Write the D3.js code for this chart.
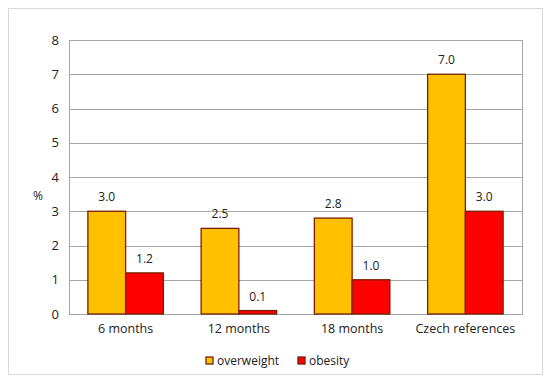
<!DOCTYPE html>
<html>
<head>
<meta charset="utf-8">
<script src="https://cdn.jsdelivr.net/npm/d3@7"></script>
<style>
  body { margin: 0; background: #fff; }
  text { font-family: "Open Sans", "Noto Sans", sans-serif; fill: #222; }
</style>
</head>
<body>
<svg id="chart"></svg>
<script>
const categories = ["6 months", "12 months", "18 months", "Czech references"];
const seriesNames = ["overweight", "obesity"];
const overweight = [3.0, 2.5, 2.8, 7.0];
const obesity = [1.2, 0.1, 1.0, 3.0];
const yTicks = [0, 1, 2, 3, 4, 5, 6, 7, 8];

const colors = { overweight: "#FFC000", obesity: "#FF0000" };
const strokeColor = "#7a1f00";

const width = 550;
const height = 382;
const margin = { top: 40, right: 28, bottom: 68, left: 69 };

const svg = d3.select("#chart").attr("width", width).attr("height", height);

// outer frame
svg.append("rect")
  .attr("x", 8.5).attr("y", 8.5)
  .attr("width", 534).attr("height", 366)
  .attr("fill", "#fff")
  .attr("stroke", "#d9d9d9");

const x0 = d3.scaleBand()
  .domain(categories)
  .range([margin.left, width - margin.right]);

const x1 = d3.scaleBand()
  .domain(seriesNames)
  .range([0, x0.bandwidth()])
  .paddingInner(0)
  .paddingOuter(0.5);

const y = d3.scaleLinear()
  .domain([0, 8])
  .range([height - margin.bottom, margin.top]);

// gridlines
svg.append("g")
  .selectAll("line")
  .data(yTicks)
  .enter()
  .append("line")
  .attr("x1", margin.left)
  .attr("x2", width - margin.right)
  .attr("y1", (d) => Math.round(y(d)) + 0.5)
  .attr("y2", (d) => Math.round(y(d)) + 0.5)
  .attr("stroke", "#a6a6a6")
  .attr("stroke-width", 1);

// plot border
svg.append("rect")
  .attr("x", margin.left + 0.5)
  .attr("y", Math.round(y(8)) + 0.5)
  .attr("width", width - margin.right - margin.left)
  .attr("height", Math.round(y(0)) - Math.round(y(8)))
  .attr("fill", "none")
  .attr("stroke", "#a6a6a6");

// y axis labels
const yAxis = d3.axisLeft(y).tickValues(yTicks).tickSize(0).tickPadding(10).tickFormat(d3.format("d"));
const yg = svg.append("g")
  .attr("transform", `translate(${margin.left},0)`)
  .call(yAxis);
yg.select(".domain").remove();
yg.selectAll("text").style("font-size", "13px").attr("fill", "#222");

svg.append("text")
  .attr("x", 38)
  .attr("y", 200)
  .attr("text-anchor", "middle")
  .style("font-size", "12px")
  .text("%");

// x axis labels
const xAxis = d3.axisBottom(x0).tickSize(0).tickPadding(10);
const xg = svg.append("g")
  .attr("transform", `translate(0,${y(0)})`)
  .call(xAxis);
xg.select(".domain").remove();
xg.selectAll("text").style("font-size", "12.5px").attr("fill", "#222");

// bars
const rows = categories.map((c, i) => ({
  category: c,
  values: [
    { key: "overweight", value: overweight[i] },
    { key: "obesity", value: obesity[i] }
  ]
}));

const groups = svg.append("g")
  .selectAll("g")
  .data(rows)
  .enter()
  .append("g")
  .attr("transform", (d) => `translate(${x0(d.category)},0)`);

groups.selectAll("rect")
  .data((d) => d.values)
  .enter()
  .append("rect")
  .attr("x", (d) => x1(d.key))
  .attr("y", (d) => y(d.value))
  .attr("width", x1.bandwidth())
  .attr("height", (d) => y(0) - y(d.value))
  .attr("fill", (d) => colors[d.key])
  .attr("stroke", strokeColor)
  .attr("stroke-width", 1.3);

groups.selectAll("text.val")
  .data((d) => d.values)
  .enter()
  .append("text")
  .attr("class", "val")
  .attr("x", (d) => x1(d.key) + x1.bandwidth() / 2)
  .attr("y", (d) => y(d.value) - 10)
  .attr("text-anchor", "middle")
  .style("font-size", "12px")
  .text((d) => d3.format(".1f")(d.value));

// legend
const legendItems = [
  { key: "overweight", x: 206 },
  { key: "obesity", x: 298 }
];
const legend = svg.append("g");
legend.selectAll("rect")
  .data(legendItems)
  .enter()
  .append("rect")
  .attr("x", (d) => d.x)
  .attr("y", 357)
  .attr("width", 7)
  .attr("height", 7)
  .attr("fill", (d) => colors[d.key])
  .attr("stroke", strokeColor)
  .attr("stroke-width", 1.3);
legend.selectAll("text")
  .data(legendItems)
  .enter()
  .append("text")
  .attr("x", (d) => d.x + 11)
  .attr("y", 365)
  .style("font-size", "12px")
  .text((d) => d.key);
</script>
</body>
</html>
